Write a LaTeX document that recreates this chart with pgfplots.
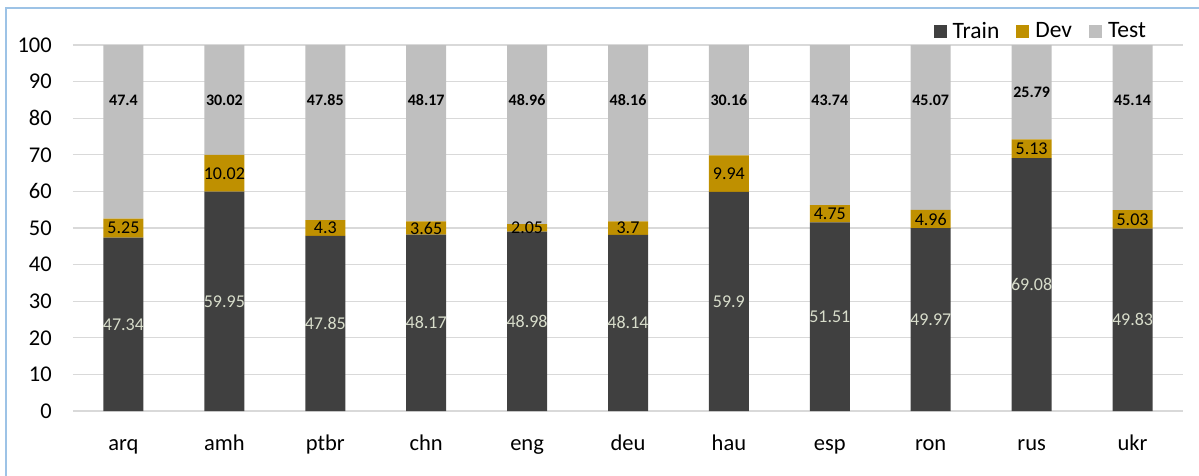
\documentclass[border=0pt]{standalone}
\usepackage{pgfplots}
\pgfplotsset{compat=1.18}
\usepackage{pgfplotstable}
\usepackage{fontspec}
\setmainfont{Carlito}
\definecolor{trainc}{HTML}{404040}
\definecolor{devc}{HTML}{BF9000}
\definecolor{testc}{HTML}{BFBFBF}
\definecolor{gridc}{HTML}{D9D9D9}
\definecolor{framec}{HTML}{9DC3E6}
\definecolor{trainlab}{HTML}{D8DDCB}

\pgfplotstableread{
x train dev test
0 47.34 5.25 47.4
1 59.95 10.02 30.02
2 47.85 4.3 47.85
3 48.17 3.65 48.17
4 48.98 2.05 48.96
5 48.14 3.7 48.16
6 59.9 9.94 30.16
7 51.51 4.75 43.74
8 49.97 4.96 45.07
9 69.08 5.13 25.79
10 49.83 5.03 45.14
}\datatab

% label positions (centre of each segment; test labels as placed in the reference)
\pgfplotstableread{
x y lab
0 23.67 47.34
1 29.975 59.95
2 23.925 47.85
3 24.085 48.17
4 24.49 48.98
5 24.07 48.14
6 29.95 59.9
7 25.755 51.51
8 24.985 49.97
9 34.54 69.08
10 24.915 49.83
}\trainlab
\pgfplotstableread{
x y lab
0 49.965 5.25
1 64.96 10.02
2 50.0 4.3
3 49.995 3.65
4 50.005 2.05
5 49.99 3.7
6 64.87 9.94
7 53.885 4.75
8 52.45 4.96
9 71.645 5.13
10 52.345 5.03
}\devlab
\pgfplotstableread{
x y lab
0 85 47.4
1 85 30.02
2 85 47.85
3 85 48.17
4 85 48.96
5 85 48.16
6 85 30.16
7 85 43.74
8 85 45.07
9 87.1 25.79
10 85 45.14
}\testlab

\begin{document}
\begin{tikzpicture}[x=1pt,y=1pt]
\useasboundingbox (0,0) rectangle (1199,475);
\draw[framec, line width=1.3pt] (6,-5) -- (6,467) -- (1210,467);
\pgfplotsset{
  base/.style={
    at={(73pt,64pt)}, anchor=south west,
    scale only axis, width=1110pt, height=366pt,
    xmin=-0.5, xmax=10.5, ymin=0, ymax=100,
  }
}
\begin{axis}[base,
  ybar stacked, bar width=40pt,
  axis line style={draw=none},
  ymajorgrids, grid style={gridc, line width=1.3pt},
  ytick={0,10,...,100},
  xtick={0,...,10},
  xticklabels={arq,amh,ptbr,chn,eng,deu,hau,esp,ron,rus,ukr},
  major tick length=0pt,
  tick label style={font=\fontsize{22.5}{24}\selectfont},
  /pgf/number format/assume math mode=true,
  yticklabel style={inner sep=0pt, xshift=-21pt},
  xticklabel style={inner sep=0pt, anchor=base, yshift=-39pt},
  legend columns=3,
  legend style={draw=none, fill=none, at={(0.871,1.038)}, anchor=center,
    font=\fontsize{23.5}{25}\selectfont,
    /tikz/every odd column/.append style={column sep=6pt},
    /tikz/every even column/.append style={column sep=17pt},
    nodes={inner sep=0pt}},
  legend image code/.code={\fill[#1] (0pt,-6.5pt) rectangle (13pt,6.5pt);},
]
\addplot[fill=trainc, draw=none] table[x=x, y=train] {\datatab};
\addplot[fill=devc, draw=none] table[x=x, y=dev] {\datatab};
\addplot[fill=testc, draw=none] table[x=x, y=test] {\datatab};
\legend{Train,Dev,Test}
\end{axis}
\begin{axis}[base, hide axis, clip=false,
  nodes near coords, point meta=explicit symbolic,
  nodes near coords align=center]
\addplot[draw=none, mark=none,
  every node near coord/.append style={anchor=center, inner sep=0pt, text=trainlab, font=\fontsize{18}{19}\selectfont}]
  table[x=x, y=y, meta=lab] {\trainlab};
\addplot[draw=none, mark=none,
  every node near coord/.append style={anchor=center, inner sep=0pt, text=black, font=\fontsize{18}{19}\selectfont}]
  table[x=x, y=y, meta=lab] {\devlab};
\addplot[draw=none, mark=none,
  every node near coord/.append style={anchor=center, inner sep=0pt, text=black, font=\bfseries\fontsize{16}{18}\selectfont}]
  table[x=x, y=y, meta=lab] {\testlab};
\end{axis}
\end{tikzpicture}
\end{document}
